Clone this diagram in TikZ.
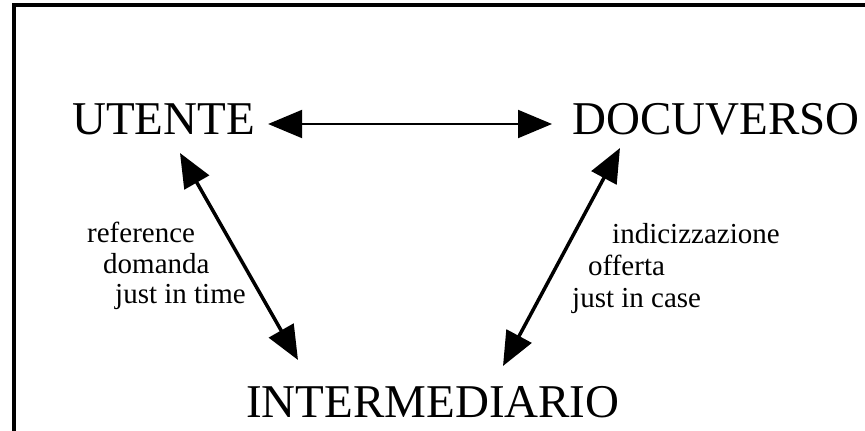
\documentclass[tikz,border=0pt]{standalone}
\usepackage{fontspec}
\setmainfont{Liberation Serif}
\usetikzlibrary{arrows.meta}

\tikzset{
  bigword/.style={inner sep=0pt, anchor=base west, font=\fontsize{47}{50}\selectfont},
  note/.style={inner sep=0pt, anchor=base west, font=\fontsize{29}{31}\selectfont},
  link/.style={{Triangle[length=34pt,width=28pt]}-{Triangle[length=34pt,width=28pt]}, line width=2pt},
}

\begin{document}
\begin{tikzpicture}[x=1pt,y=-1pt]
    \useasboundingbox (0,0) rectangle (865,431);
    \clip (0,0) rectangle (865,431);

    % Frame (only top and left edge show)
    \draw[line width=4pt] (13.5,4.5) rectangle (890,460);

    % The three actors
    \node[bigword] (utente) at (72,134) {UTENTE};
    \node[bigword] (docuverso) at (572,134) {DOCUVERSO};
    \node[bigword] (inter) at (246,417) {INTERMEDIARIO};

    % Links between them
    \draw[link] ([shift={(13,-10)}]utente.base east) -- ([shift={(-20,-10)}]docuverso.base west);
    \draw[link, line width=3.5pt] ([shift={(108,19)}]utente.base west) -- ([shift={(52,-57)}]inter.base west);
    \draw[link, line width=3.5pt] ([shift={(48,14)}]docuverso.base west) -- ([shift={(257,-51)}]inter.base west);

    % Left side notes
    \node[note] (ref) at (87,242) {reference};
    \node[note] (dom) at (103,273) {domanda};
    \node[note] (jit) at (115,303) {just in time};

    % Right side notes
    \node[note] (ind) at (612,243) {indicizzazione};
    \node[note] (off) at (588,275) {offerta};
    \node[note] (jic) at (572,307) {just in case};
\end{tikzpicture}
\end{document}
